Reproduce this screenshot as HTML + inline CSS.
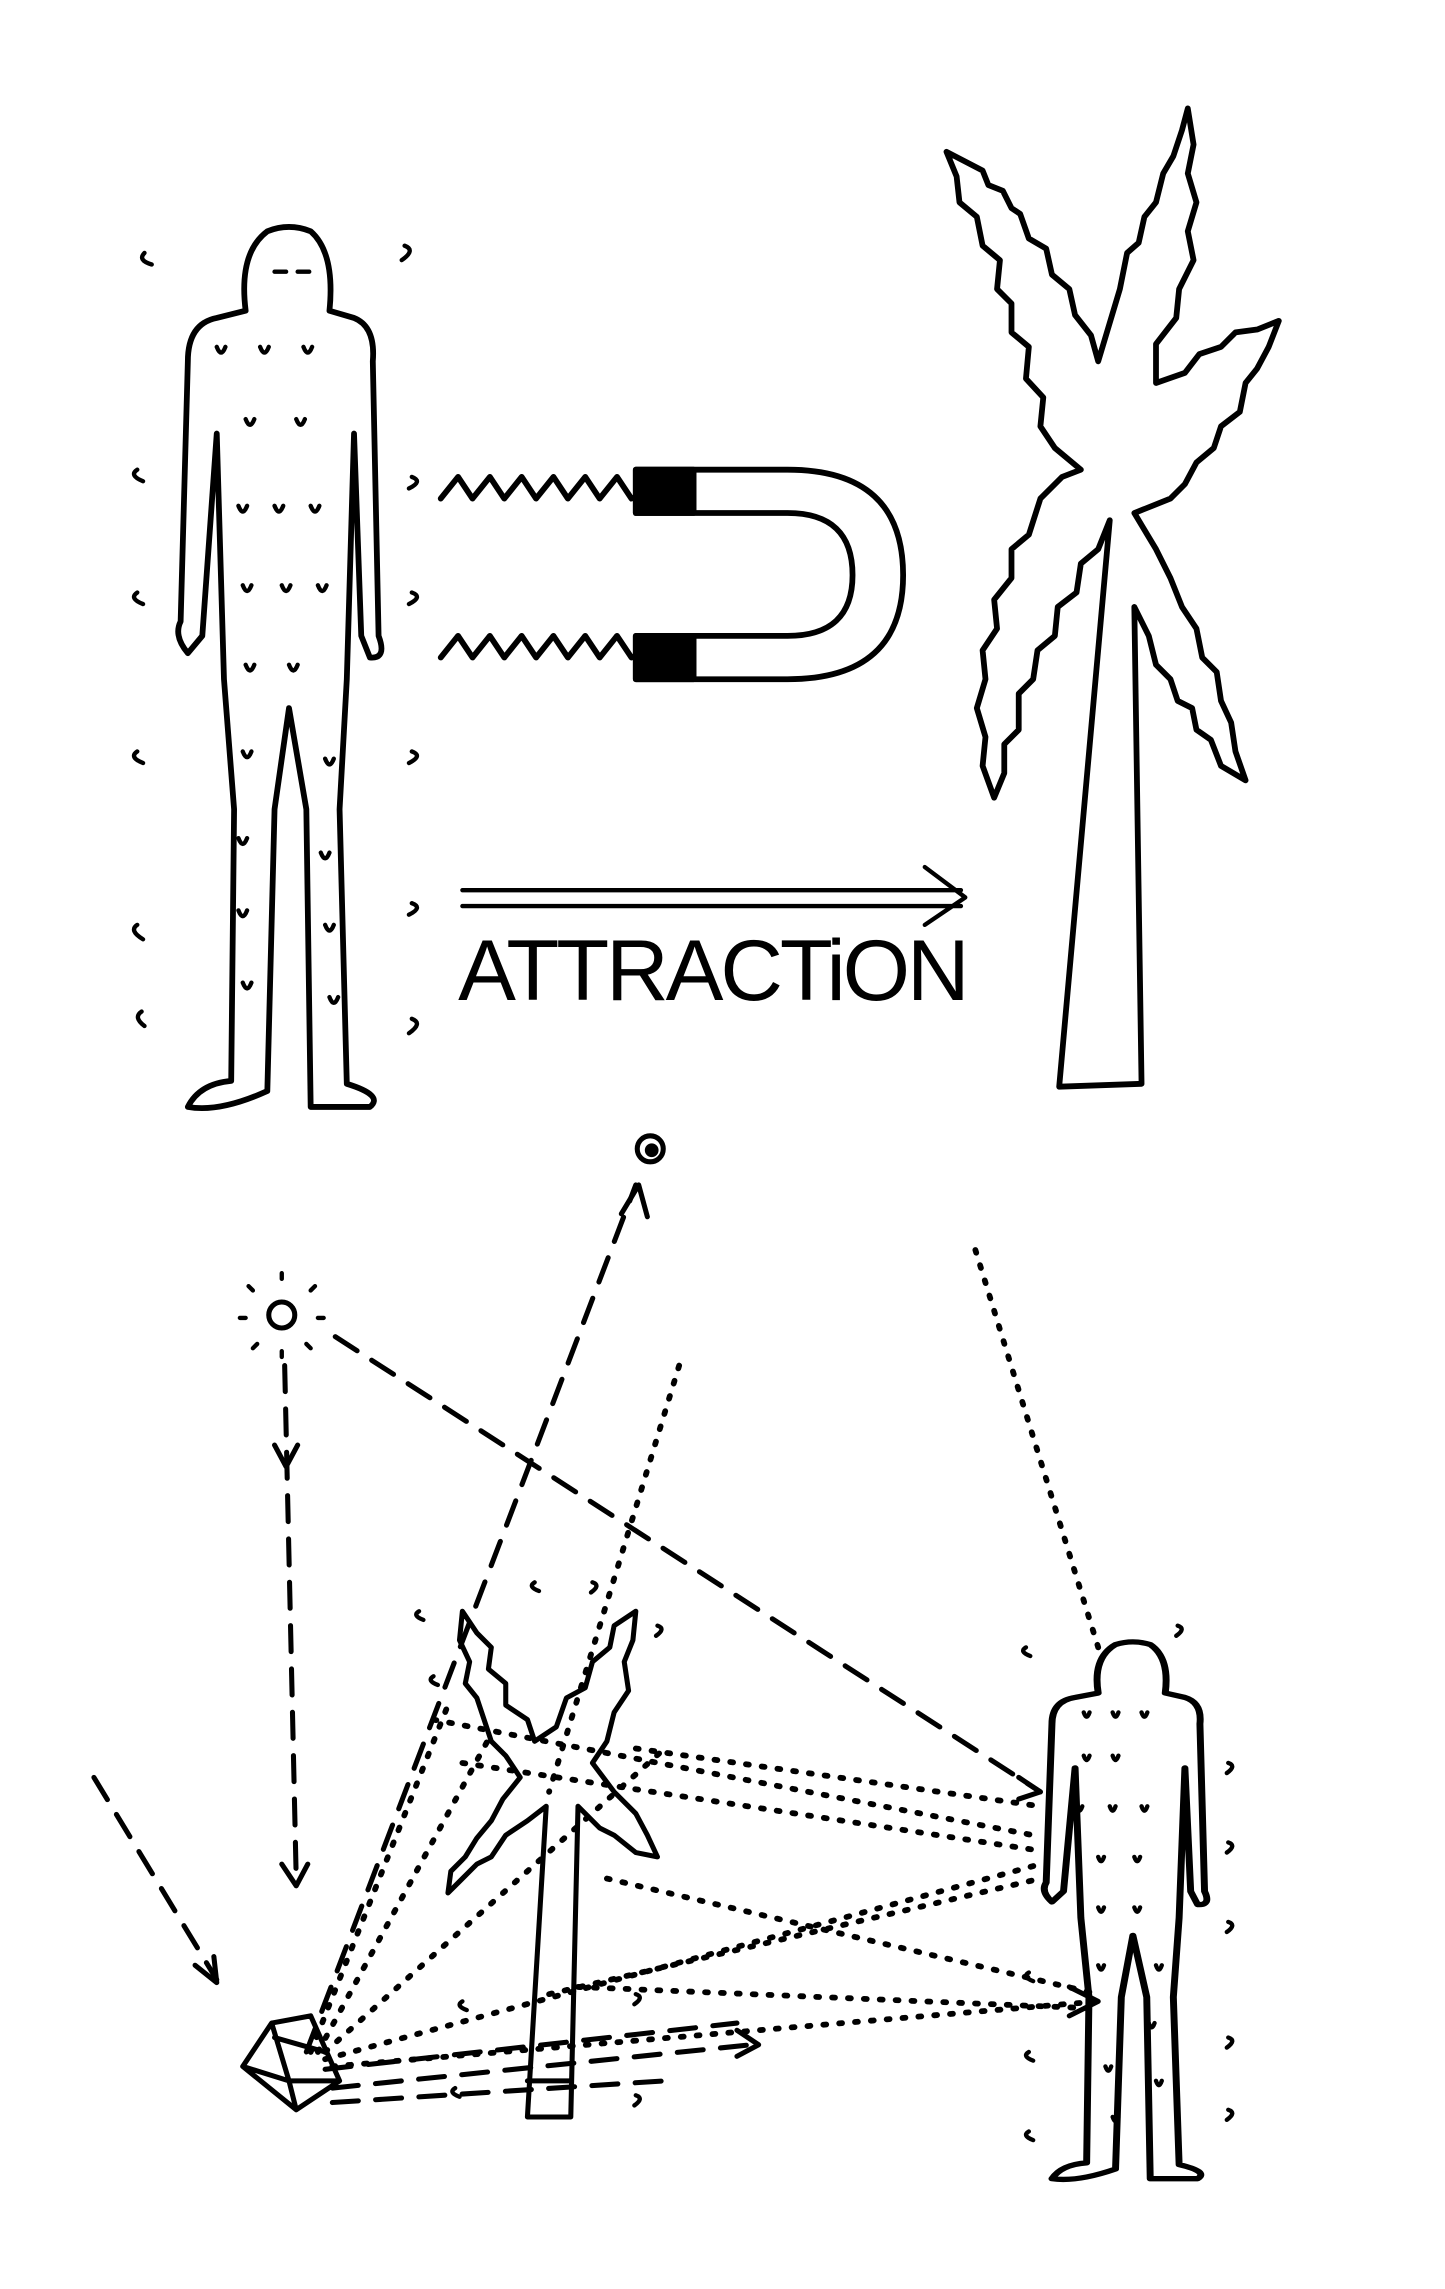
<!DOCTYPE html>
<html><head><meta charset="utf-8"><style>
html,body{margin:0;padding:0;background:#fff;}
svg{display:block;}
</style></head><body>
<svg width="1445" height="2289" viewBox="0 0 1000 1584" xmlns="http://www.w3.org/2000/svg">
<rect width="1000" height="1584" fill="#fff"/>
<defs>
<path id="person" d="M185,160 Q200,154 215,160 Q232,175 228,215 L245,220 Q260,226 258,250 L262,440 Q268,456 256,455 L250,440 L245,300 L240,470 L235,560 L240,750 Q266,758 256,766 L215,766 L212,560 L200,490 L190,560 L185,755 Q152,770 130,766 Q138,750 160,748 L162,560 L155,470 L150,300 L140,440 L130,452 Q120,440 125,430 L130,250 Q130,224 150,220 L170,215 Q165,175 185,160 Z"/>
</defs>
<g fill="none" stroke="#000" stroke-width="4" stroke-linejoin="round" stroke-linecap="round">
<!-- top person -->
<use href="#person"/>
<path d="M190,188 h8 M206,188 h8" stroke-width="3"/>
<g stroke-width="3">
<path d="M150,240 q3,8 6,0 M180,240 q3,8 6,0 M210,240 q3,8 6,0 M170,290 q3,8 6,0 M205,290 q3,8 6,0 M165,350 q3,8 6,0 M190,350 q3,8 6,0 M215,350 q3,8 6,0 M168,405 q3,8 6,0 M195,405 q3,8 6,0 M220,405 q3,8 6,0 M170,460 q3,8 6,0 M200,460 q3,8 6,0 M168,520 q3,8 6,0 M225,525 q3,8 6,0 M165,580 q3,8 6,0 M222,590 q3,8 6,0 M165,630 q3,8 6,0 M225,640 q3,8 6,0 M168,680 q3,8 6,0 M228,690 q3,8 6,0"/>
<path d="M100,175 q-5,5 5,8 M280,170 q8,3 -2,10 M95,325 q-6,4 4,8 M95,410 q-6,4 4,8 M95,520 q-6,4 4,8 M95,640 q-6,4 4,10 M98,700 q-6,4 2,10 M285,330 q8,3 -2,8 M285,410 q8,3 -2,8 M285,520 q8,3 -2,8 M285,625 q8,3 -2,8 M285,705 q8,3 -2,10"/>
</g>
<!-- zigzags -->
<path d="M305,345 l12,-15 l10,15 l12,-15 l10,15 l12,-15 l10,15 l12,-15 l10,15 l12,-15 l10,15 l12,-15 l10,15 l14,-5"/>
<path d="M305,455 l12,-15 l10,15 l12,-15 l10,15 l12,-15 l10,15 l12,-15 l10,15 l12,-15 l10,15 l12,-15 l10,15 l14,-5"/>
<!-- magnet -->
<path d="M440,325 L545,325 Q625,325 625,398 Q625,470 545,470 L440,470 L440,440 L545,440 Q590,440 590,398 Q590,355 545,355 L440,355 Z"/>
<rect x="440" y="325" width="40" height="30" fill="#000"/>
<rect x="440" y="440" width="40" height="30" fill="#000"/>
<!-- arrow -->
<path d="M320,616 L665,616 M320,627 L665,627 M640,600 L668,621 L640,640" stroke-width="3"/>
<!-- palm -->
<path d="M655,105 L680,118 L684,128 L694,132 L700,144 L706,148 L712,165 L724,172 L728,190 L740,200 L744,218 L755,232 L760,250 L775,200 L780,175 L788,168 L792,150 L800,140 L805,120 L812,108 L818,90 L822,75 L826,100 L822,120 L828,140 L822,160 L826,180 L816,200 L814,220 L800,238 L800,265 L820,258 L830,245 L845,240 L855,230 L870,228 L885,222 L878,240 L870,255 L862,265 L858,285 L845,295 L840,310 L828,320 L820,335 L810,345 L785,355 L800,380 L810,400 L818,420 L828,435 L832,455 L842,465 L845,485 L852,500 L855,520 L862,540 L845,530 L838,512 L828,505 L825,490 L815,485 L810,470 L800,460 L795,440 L785,420 L790,750 L733,752 L768,360 L760,380 L748,390 L745,410 L732,420 L730,440 L718,450 L715,470 L705,480 L705,505 L695,515 L695,535 L688,552 L680,530 L682,510 L676,490 L682,470 L680,450 L690,435 L688,415 L700,400 L700,380 L712,370 L720,345 L735,330 L748,325 L730,310 L720,295 L722,275 L710,262 L712,240 L700,230 L700,210 L690,200 L692,180 L680,170 L676,150 L664,140 L662,122 Z" stroke-width="4"/>
</g>
<text x="317" y="692" font-family="Liberation Sans, sans-serif" font-size="60" letter-spacing="1" textLength="355">ATTRACTiON</text>

<!-- bottom scene -->
<g fill="none" stroke="#000" stroke-width="3.5" stroke-linecap="round" stroke-linejoin="round">
<circle cx="195" cy="910" r="9"/>
<path d="M195,885 v-4 M175,893 l-3,-3 M215,893 l3,-3 M170,912 h-4 M220,912 h4 M178,930 l-3,3 M212,930 l3,3 M195,935 v4" stroke-width="3"/>
<circle cx="450" cy="795" r="9"/><circle cx="451" cy="796" r="3" fill="#000"/>
<g stroke-dasharray="18,12">
<path d="M197,945 L205,1300"/>
<path d="M232,925 L720,1240"/>
<path d="M212,1420 L440,820"/>
<path d="M65,1230 L150,1370"/>
<path d="M230,1445 L520,1415"/>
<path d="M225,1432 L510,1400"/>
<path d="M230,1455 L460,1440"/>
</g>
<path d="M190,1000 l8,15 l8,-15 M195,1290 l10,15 l8,-15 M430,840 l12,-20 l6,22 M135,1360 l15,12 l-2,-18 M705,1230 l15,10 l-15,5 M510,1405 l15,10 l-15,8 M740,1375 l20,10 l-20,10"/>
<g stroke-dasharray="2,9" stroke-width="4">
<path d="M470,945 L380,1240"/>
<path d="M675,865 L760,1140"/>
<path d="M215,1420 L310,1180"/>
<path d="M220,1420 L340,1200"/>
<path d="M225,1420 L460,1210"/>
<path d="M225,1425 L720,1290"/>
<path d="M230,1430 L760,1385"/>
<path d="M300,1190 L715,1270"/>
<path d="M320,1220 L715,1280"/>
<path d="M440,1210 L720,1250"/>
<path d="M380,1380 L720,1300"/>
<path d="M400,1375 L760,1390"/>
<path d="M420,1300 L760,1380"/>
</g>
<!-- box -->
<path d="M168,1430 L188,1400 L215,1395 L235,1440 L205,1460 Z M188,1400 L200,1440 L168,1430 M200,1440 L235,1440 M205,1460 L200,1440 M190,1410 L225,1420"/>
<!-- small tree -->
<path d="M320,1115 L330,1130 L340,1140 L338,1155 L350,1165 L350,1180 L365,1190 L370,1205 L385,1195 L392,1175 L405,1168 L410,1150 L422,1140 L425,1125 L440,1115 L438,1135 L432,1150 L435,1170 L425,1185 L420,1205 L410,1220 L425,1240 L440,1255 L448,1270 L455,1285 L440,1282 L425,1270 L415,1265 L400,1250 L395,1465 L365,1465 L378,1250 L365,1260 L350,1270 L340,1285 L330,1290 L320,1300 L310,1310 L312,1295 L322,1285 L330,1272 L340,1260 L348,1245 L360,1230 L350,1215 L340,1205 L335,1190 L330,1175 L322,1165 L325,1150 L318,1135 Z"/>
<path d="M365,1440 L395,1440"/>
<!-- small person -->
<use href="#person" transform="translate(720,1135) scale(0.8,0.61) translate(-120,-155)" vector-effect="non-scaling-stroke" stroke-width="6"/>
<g stroke-width="3">
<path d="M750,1185 q2,6 4,0 M770,1185 q2,6 4,0 M790,1185 q2,6 4,0 M750,1215 q2,6 4,0 M770,1215 q2,6 4,0 M745,1250 q2,6 4,0 M768,1250 q2,6 4,0 M790,1250 q2,6 4,0 M760,1285 q2,6 4,0 M785,1285 q2,6 4,0 M760,1320 q2,6 4,0 M785,1320 q2,6 4,0 M760,1360 q2,6 4,0 M800,1360 q2,6 4,0 M795,1400 q2,6 4,0 M765,1430 q2,6 4,0 M800,1440 q2,6 4,0 M770,1465 q2,6 4,0"/>
<path d="M710,1140 q-5,3 3,6 M815,1125 q6,2 -1,7 M850,1220 q6,2 -1,7 M850,1275 q6,2 -1,7 M850,1330 q6,2 -1,7 M850,1410 q6,2 -1,7 M850,1460 q6,2 -1,7 M712,1420 q-5,3 3,6 M712,1475 q-5,3 3,6 M712,1365 q-5,3 3,6 M290,1115 q-5,3 3,6 M370,1095 q-5,3 3,6 M410,1095 q6,2 -1,7 M455,1125 q6,2 -1,7 M320,1385 q-5,3 3,6 M300,1160 q-5,3 3,6 M440,1450 q6,2 -1,7 M315,1445 q-5,3 3,6 M440,1380 q6,2 -1,7"/>
</g>
</g>
</svg>
</body></html>
